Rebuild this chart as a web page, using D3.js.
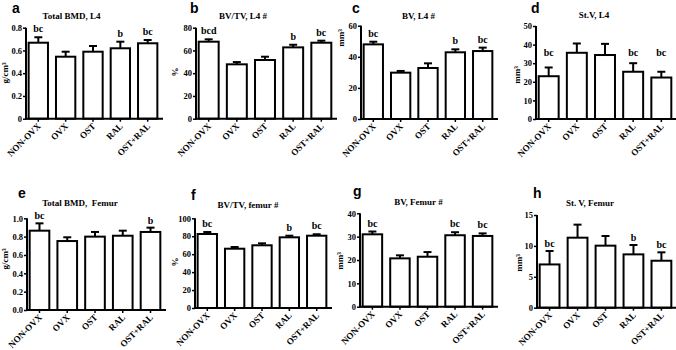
<!DOCTYPE html>
<html>
<head>
<meta charset="utf-8">
<script src="https://cdn.jsdelivr.net/npm/d3@7"></script>
<style>
  html, body { margin: 0; padding: 0; background: #fff; }
  svg { display: block; }
  .serif { font-family: "Liberation Serif", "Times New Roman", serif; font-weight: bold; }
  .plabel { font-family: "Liberation Sans", Arial, sans-serif; font-weight: bold; }
</style>
</head>
<body>
<svg id="chart" width="676" height="350"></svg>
<script>
// ---------- DATA ----------
const categories = ["NON-OVX", "OVX", "OST", "RAL", "OST+RAL"];

const panelLetters = ["a", "b", "c", "d", "e", "f", "g", "h"];
const panelTitles = ["Total BMD, L4", "BV/TV, L4 #", "BV, L4 #", "St.V, L4",
                     "Total BMD,\u00A0 Femur", "BV/TV, femur #", "BV, Femur #", "St. V, Femur"];
const yAxisLabels = ["g/cm\u00B3", "%", "mm\u00B3", "mm\u00B3", "g/cm\u00B3", "%", "mm\u00B3", "mm\u00B3"];

// means
const bmdL4Mean    = [0.668, 0.545, 0.589, 0.619, 0.663];
const bvtvL4Mean   = [67.7, 47.8, 51.6, 62.7, 66.8];
const bvL4Mean     = [48.0, 29.8, 32.8, 42.9, 43.7];
const stvL4Mean    = [23.0, 35.6, 34.4, 25.4, 22.3];
const bmdFemurMean = [0.865, 0.752, 0.800, 0.810, 0.851];
const bvtvFemurMean= [82.5, 66.1, 69.9, 78.8, 80.6];
const bvFemurMean  = [31.0, 20.7, 21.4, 30.6, 30.3];
const stvFemurMean = [7.0, 11.33, 10.04, 8.63, 7.6];

// error (SEM, upper only)
const bmdL4Err    = [0.048, 0.044, 0.050, 0.058, 0.029];
const bvtvL4Err   = [2.1, 2.0, 2.9, 2.3, 1.8];
const bvL4Err     = [1.7, 1.1, 3.0, 1.9, 2.2];
const stvL4Err    = [4.7, 5.0, 6.0, 4.6, 3.1];
const bmdFemurErr = [0.080, 0.041, 0.051, 0.055, 0.047];
const bvtvFemurErr= [2.2, 1.9, 2.2, 1.8, 1.6];
const bvFemurErr  = [1.2, 1.3, 2.0, 1.3, 1.1];
const stvFemurErr = [2.17, 2.11, 1.56, 1.52, 1.36];

// significance letters
const bmdL4Sig    = ["bc", "", "", "b", "bc"];
const bvtvL4Sig   = ["bcd", "", "", "b", "bc"];
const bvL4Sig     = ["bc", "", "", "b", "bc"];
const stvL4Sig    = ["bc", "", "", "bc", "bc"];
const bmdFemurSig = ["bc", "", "", "", "b"];
const bvtvFemurSig= ["bc", "", "", "b", "bc"];
const bvFemurSig  = ["bc", "", "", "bc", "bc"];
const stvFemurSig = ["bc", "", "", "b", "bc"];

// y-axis tick values and labels
const bmdL4Ticks     = [0, 0.2, 0.4, 0.6, 0.8];
const bmdL4TickLbl   = ["0", "0.2", "0.4", "0.6", "0.8"];
const bvtvL4Ticks    = [0, 20, 40, 60, 80];
const bvL4Ticks      = [0, 20, 40, 60];
const stvL4Ticks     = [0, 10, 20, 30, 40, 50];
const bmdFemurTicks  = [0, 0.2, 0.4, 0.6, 0.8, 1.0];
const bmdFemurTickLbl= ["0.0", "0.2", "0.4", "0.6", "0.8", "1.0"];
const bvtvFemurTicks = [0, 20, 40, 60, 80, 100];
const bvFemurTicks   = [0, 10, 20, 30, 40];
const stvFemurTicks  = [0, 5, 10, 15];

const means = [bmdL4Mean, bvtvL4Mean, bvL4Mean, stvL4Mean, bmdFemurMean, bvtvFemurMean, bvFemurMean, stvFemurMean];
const errs  = [bmdL4Err, bvtvL4Err, bvL4Err, stvL4Err, bmdFemurErr, bvtvFemurErr, bvFemurErr, stvFemurErr];
const sigs  = [bmdL4Sig, bvtvL4Sig, bvL4Sig, stvL4Sig, bmdFemurSig, bvtvFemurSig, bvFemurSig, stvFemurSig];
const ticks = [bmdL4Ticks, bvtvL4Ticks, bvL4Ticks, stvL4Ticks, bmdFemurTicks, bvtvFemurTicks, bvFemurTicks, stvFemurTicks];
const tickLbls = [bmdL4TickLbl, null, null, null, bmdFemurTickLbl, null, null, null];
const yMax = [0.8, 80, 60, 50, 1.0, 100, 40, 15];

// ---------- LAYOUT (positions / styles) ----------
const layout = [
  {left: 26,  width: 134, top: 27.7, bottom: 118.7, title: [71.5, 19],  letter: [12, 13],  ylab: [8, 73],   sigGap: 5},
  {left: 196, width: 138, top: 27.7, bottom: 118.7, title: [243, 19],   letter: [190, 13], ylab: [178, 72], sigGap: 5},
  {left: 361, width: 134, top: 25.7, bottom: 119,   title: [418.5, 19], letter: [352, 13], ylab: [344, 38], sigGap: 5},
  {left: 536, width: 138, top: 26,   bottom: 119,   title: [594, 18],   letter: [531, 13], ylab: [520, 75], sigGap: 5, sigLevel: 34},
  {left: 27,  width: 136, top: 218.3, bottom: 310,  title: [80, 206],   letter: [18, 198], ylab: [8, 259],  sigGap: 4},
  {left: 195, width: 134, top: 218.3, bottom: 308,  title: [248, 208],  letter: [191, 200], ylab: [178, 262], sigGap: 5},
  {left: 360, width: 135, top: 213.3, bottom: 306.7, title: [418.5, 205], letter: [353, 196], ylab: [343, 261], sigGap: 5},
  {left: 537, width: 137, top: 215,  bottom: 307.7, title: [590, 206],  letter: [533, 198], ylab: [522, 263], sigGap: 4}
];

const svg = d3.select("#chart");

layout.forEach((L, i) => {
  const g = svg.append("g");
  const x = d3.scaleBand().domain(categories)
    .range([L.left, L.left + L.width]).paddingInner(0.22).paddingOuter(0.06);
  const y = d3.scaleLinear().domain([0, yMax[i]]).range([L.bottom, L.top]);

  const data = categories.map((c, k) => ({c, m: means[i][k], e: errs[i][k], s: sigs[i][k]}));
  const bw = x.bandwidth();

  // error bars
  data.forEach(d => {
    const cx = x(d.c) + bw / 2;
    g.append("line").attr("x1", cx).attr("x2", cx)
      .attr("y1", y(d.m)).attr("y2", y(d.m + d.e))
      .attr("stroke", "#000").attr("stroke-width", 2);
    g.append("line").attr("x1", cx - 4).attr("x2", cx + 4)
      .attr("y1", y(d.m + d.e)).attr("y2", y(d.m + d.e))
      .attr("stroke", "#000").attr("stroke-width", 2);
  });

  // bars
  g.selectAll("rect.bar").data(data).enter().append("rect")
    .attr("class", "bar")
    .attr("x", d => x(d.c) + 1)
    .attr("width", bw - 2)
    .attr("y", d => y(d.m))
    .attr("height", d => y(0) - y(d.m))
    .attr("fill", "#fff").attr("stroke", "#000").attr("stroke-width", 2);

  // significance letters
  g.selectAll("text.sig").data(data.filter(d => d.s)).enter().append("text")
    .attr("class", "serif")
    .attr("x", d => x(d.c) + bw / 2)
    .attr("y", d => L.sigLevel !== undefined ? y(L.sigLevel) : y(d.m + d.e) - L.sigGap)
    .attr("text-anchor", "middle")
    .attr("font-size", 10)
    .text(d => d.s);

  // y axis
  const yAxis = d3.axisLeft(y).tickValues(ticks[i]).tickSize(3).tickPadding(1)
    .tickFormat((v, k) => tickLbls[i] ? tickLbls[i][k] : d3.format("d")(v));
  const ya = g.append("g").attr("transform", `translate(${L.left},0)`).call(yAxis);
  ya.select(".domain").remove();
  ya.selectAll(".tick line").attr("stroke", "#000").attr("stroke-width", 1.5);
  ya.selectAll(".tick text").attr("class", "serif").attr("font-size", 8.5)
    .attr("fill", "#000").attr("font-family", null);
  g.append("line").attr("x1", L.left).attr("x2", L.left)
    .attr("y1", L.top).attr("y2", L.bottom + 1)
    .attr("stroke", "#000").attr("stroke-width", 2);

  // x axis
  const xAxis = d3.axisBottom(x).tickSize(3).tickSizeOuter(0);
  const xa = g.append("g").attr("transform", `translate(0,${L.bottom})`).call(xAxis);
  xa.select(".domain").remove();
  xa.selectAll(".tick line").attr("stroke", "#000").attr("stroke-width", 1.5);
  xa.selectAll(".tick text").attr("class", "serif").attr("font-size", 9)
    .attr("fill", "#000").attr("font-family", null)
    .attr("text-anchor", "end")
    .attr("dy", null).attr("y", null)
    .attr("transform", "translate(3,8) rotate(-45)");
  g.append("line").attr("x1", L.left - 1).attr("x2", L.left + L.width + 3)
    .attr("y1", L.bottom).attr("y2", L.bottom)
    .attr("stroke", "#000").attr("stroke-width", 2);

  // title
  svg.append("text").attr("class", "serif")
    .attr("x", L.title[0]).attr("y", L.title[1])
    .attr("text-anchor", "middle").attr("font-size", 9)
    .text(panelTitles[i]);

  // panel letter
  svg.append("text").attr("class", "plabel")
    .attr("x", L.letter[0]).attr("y", L.letter[1])
    .attr("font-size", 14)
    .text(panelLetters[i]);

  // y label
  g.append("text").attr("class", "serif")
    .attr("transform", `translate(${L.ylab[0]},${L.ylab[1]}) rotate(-90)`)
    .attr("text-anchor", "middle").attr("font-size", 9)
    .text(yAxisLabels[i]);
});
</script>
</body>
</html>
